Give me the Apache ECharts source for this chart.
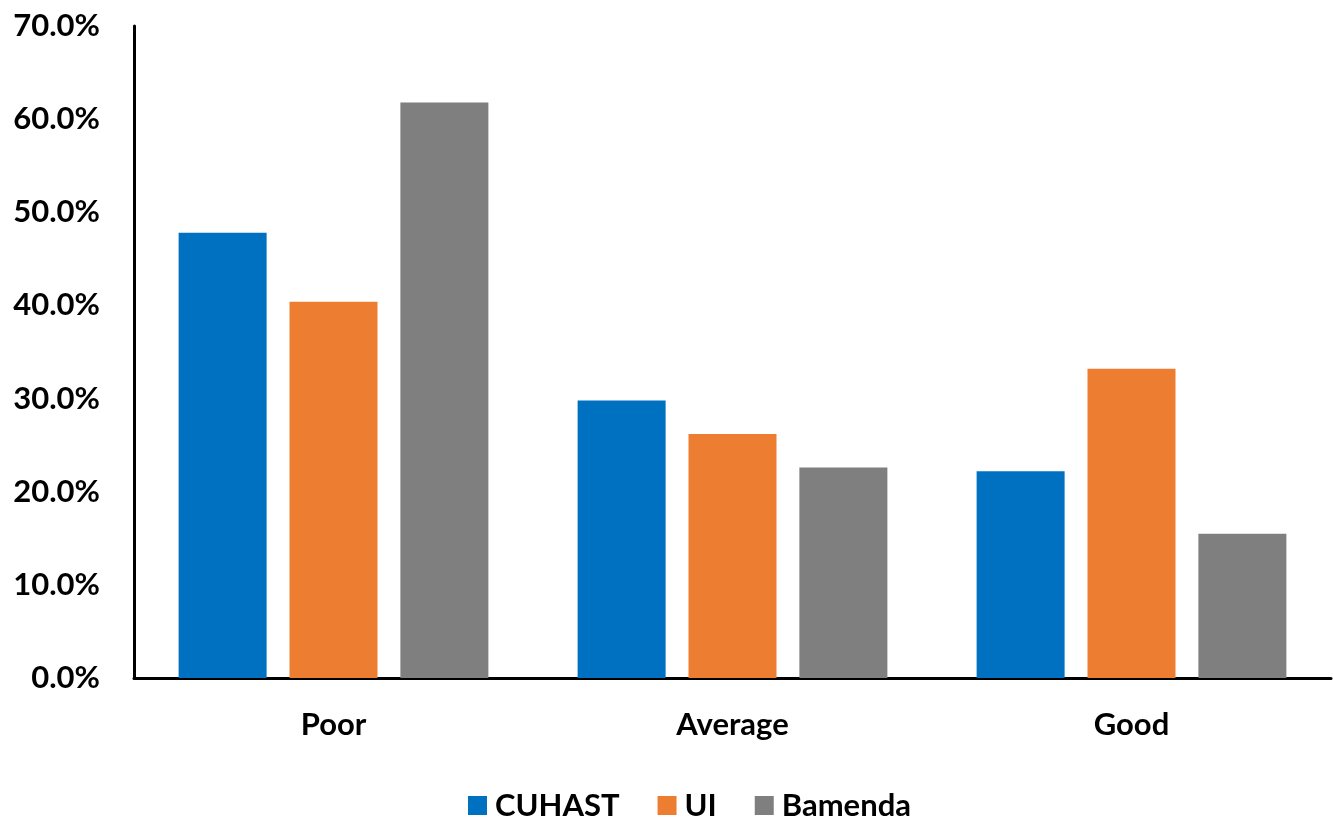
<!DOCTYPE html>
<html>
<head>
<meta charset="utf-8">
<script src="https://cdn.jsdelivr.net/npm/echarts@6/dist/echarts.min.js"></script>
<style>
  html, body { margin: 0; padding: 0; background: #fff; }
  #chart { width: 1333px; height: 820px; }
</style>
</head>
<body>
<div id="chart"></div>
<script>
// Rating categories and share of respondents per institution (%)
const categories = ['Poor', 'Average', 'Good'];
const cuhast = [47.8, 29.8, 22.2];
const ui = [40.4, 26.2, 33.2];
const bamenda = [61.8, 22.6, 15.5];
const seriesNames = ['CUHAST', 'UI', 'Bamenda'];
const colors = ['#0070C0', '#ED7D31', '#7F7F7F'];

const FONT = 'Lato, "Open Sans", sans-serif';

const chart = echarts.init(document.getElementById('chart'), null, { renderer: 'canvas' });

const mkSeries = (name, data, color) => ({
  name,
  type: 'bar',
  data,
  barWidth: 88,
  barGap: '26%',
  itemStyle: { color },
  emphasis: { disabled: true }
});

chart.setOption({
  animation: false,
  backgroundColor: '#ffffff',
  grid: { left: 134, right: 2, top: 26, bottom: 142, containLabel: false },
  legend: {
    top: 785,
    left: 463,
    itemWidth: 19,
    itemHeight: 19,
    itemGap: 38,
    icon: 'rect',
    textStyle: { fontFamily: FONT, fontWeight: 'bold', fontSize: 31, color: '#000', padding: [0, 0, 0, 3] },
    data: seriesNames
  },
  xAxis: {
    type: 'category',
    data: categories,
    axisLine: { lineStyle: { color: '#000', width: 3 } },
    axisTick: { show: false },
    axisLabel: { fontFamily: FONT, fontWeight: 'bold', fontSize: 31, color: '#000', margin: 31 }
  },
  yAxis: {
    type: 'value',
    min: 0,
    max: 70,
    interval: 10,
    axisLine: { show: true, lineStyle: { color: '#000', width: 3 } },
    axisTick: { show: false },
    splitLine: { show: false },
    axisLabel: {
      fontFamily: FONT, fontWeight: 'bold', fontSize: 31, color: '#000', margin: 34,
      formatter: v => v.toFixed(1) + '%'
    }
  },
  series: [
    mkSeries(seriesNames[0], cuhast, colors[0]),
    mkSeries(seriesNames[1], ui, colors[1]),
    mkSeries(seriesNames[2], bamenda, colors[2])
  ]
});
</script>
</body>
</html>
